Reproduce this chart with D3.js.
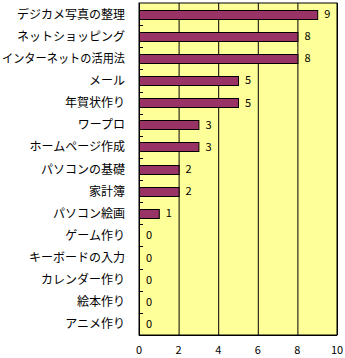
<!DOCTYPE html>
<html><head><meta charset="utf-8">
<script src="https://cdn.jsdelivr.net/npm/d3@7"></script>
<style>body{margin:0;background:#fff}svg{display:block}</style>
</head><body><svg id="c" width="345" height="358"></svg>
<script>
const categories = ["デジカメ写真の整理","ネットショッピング","インターネットの活用法","メール","年賀状作り","ワープロ","ホームページ作成","パソコンの基礎","家計簿","パソコン絵画","ゲーム作り","キーボードの入力","カレンダー作り","絵本作り","アニメ作り"];
const values = [9,8,8,5,5,3,3,2,2,1,0,0,0,0,0];
const xTicks = [0,2,4,6,8,10];

const svg = d3.select("#c");
const L = 139, R = 337, T = 3, B = 335;
const x = d3.scaleLinear().domain([0,10]).range([L,R]);
const y = d3.scaleBand().domain(categories).range([T,B]).paddingInner(0.6).paddingOuter(0.3);
const yb = d3.scaleBand().domain(categories).range([T,B]);

svg.append("rect").attr("x",L).attr("y",T).attr("width",R-L).attr("height",B-T)
  .attr("fill","#FFFF99").attr("stroke","#000").attr("stroke-width",1);

svg.append("g").selectAll("line").data(xTicks.slice(1)).join("line")
  .attr("x1",d=>x(d)+0.5).attr("x2",d=>x(d)+0.5).attr("y1",T).attr("y2",B)
  .attr("stroke","#000").attr("stroke-width",1);

svg.append("g").selectAll("line").data(categories.slice(1)).join("line")
  .attr("x1",L).attr("x2",L+4).attr("y1",d=>Math.round(yb(d))+0.5).attr("y2",d=>Math.round(yb(d))+0.5)
  .attr("stroke","#000");

svg.append("g").selectAll("rect").data(values).join("rect")
  .attr("x",L+0.5).attr("y",(d,i)=>Math.round(y(categories[i]))+0.5)
  .attr("width",d=>Math.max(0,x(d)-L)).attr("height",Math.round(y.bandwidth()))
  .attr("fill","#993366").attr("stroke",d=>d>0?"#000":"none").attr("stroke-width",1);

svg.append("line").attr("x1",L+0.5).attr("x2",L+0.5).attr("y1",T).attr("y2",B).attr("stroke","#000");
svg.append("line").attr("x1",L).attr("x2",R).attr("y1",B+0.5).attr("y2",B+0.5).attr("stroke","#000");

svg.append("g").selectAll("text").data(values).join("text")
  .attr("x",d=>x(d)+7).attr("y",(d,i)=>yb(categories[i])+yb.bandwidth()/2+4)
  .attr("font-family","'Noto Sans CJK JP', sans-serif").attr("font-size",11)
  .text(d=>d);

svg.append("g").selectAll("text").data(categories).join("text")
  .attr("x",125).attr("y",d=>yb(d)+yb.bandwidth()/2+4.5).attr("text-anchor","end")
  .attr("font-family","'Noto Sans CJK JP', sans-serif").attr("font-size",12)
  .text(d=>d)
  .each(function(){
    const w = this.getComputedTextLength();
    if (w > 123) d3.select(this).attr("textLength",123).attr("lengthAdjust","spacingAndGlyphs");
  });

svg.append("g").selectAll("text").data(xTicks).join("text")
  .attr("x",d=>x(d)).attr("y",354).attr("text-anchor","middle")
  .attr("font-family","'Noto Sans CJK JP', sans-serif").attr("font-size",11)
  .text(d=>d);
</script></body></html>
